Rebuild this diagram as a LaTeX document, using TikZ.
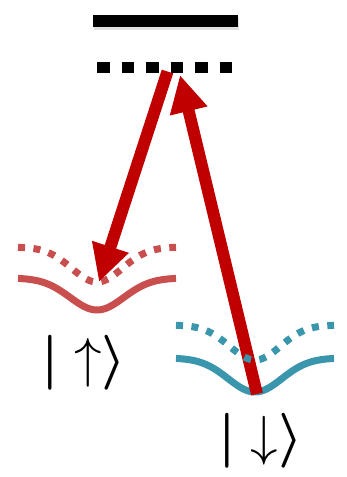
\documentclass[tikz,border=0pt]{standalone}
\usepackage{graphicx}
\usepackage{bm}
\usetikzlibrary{arrows.meta}
\definecolor{arrowred}{HTML}{C00000}
\definecolor{wellred}{HTML}{C94F4F}
\definecolor{wellblue}{HTML}{3A96AD}
\tikzset{
  level/.style={line width=12pt},
  vlevel/.style={line width=11.5pt, dash pattern=on 12.5pt off 12pt},
  wellsolid/.style={line width=7pt},
  welldots/.style={line width=7pt, dash pattern=on 7pt off 8.5pt},
  transition/.style={arrowred, line width=12pt, -{Triangle[length=37pt,width=36pt]}},
  ket/.style={inner sep=0pt}
}
\begin{document}
\begin{tikzpicture}[x=1pt,y=-1pt]
\useasboundingbox (0,0) rectangle (347,477);
% levels
\coordinate (e1) at (93,21);
\coordinate (e2) at (238,21);
\draw[level, black!12] ([shift={(1,3)}]e1) -- ([shift={(1,3)}]e2);
\draw[level] (e1) -- (e2);
\coordinate (v1) at (97,67.5);
\coordinate (v2) at (233,67.5);
\draw[vlevel] (v1) -- (v2);
% red well
\draw[wellsolid, wellred] plot[domain=18:176, samples=80, smooth] (\x, {278+32*exp(-((\x-97)/38)^2)});
\draw[welldots, wellred] plot[domain=18:176, samples=80, smooth] (\x, {247+35*exp(-((\x-97)/36)^2)});
% blue well
\draw[wellsolid, wellblue] plot[domain=176:334, samples=80, smooth] (\x, {358+34*exp(-((\x-255)/38)^2)});
% arrows
\coordinate (a1s) at (167.5,71.5);
\coordinate (a1e) at (99,282);
\coordinate (a2s) at (257,394);
\coordinate (a2e) at (180,75);
\draw[transition] (a1s) -- (a1e);
\draw[transition] (a2s) -- (a2e);
\draw[welldots, wellblue] plot[domain=176:334, samples=80, smooth] (\x, {325+35*exp(-((\x-255)/36)^2)});
% kets
\node[ket] (up) at (84,362.5) {\scalebox{5.5}{$\bm{|}\uparrow\bm{\rangle}$}};
\node[ket] (down) at (260.5,441) {\scalebox{5.5}{$\bm{|}\downarrow\bm{\rangle}$}};
\end{tikzpicture}
\end{document}
